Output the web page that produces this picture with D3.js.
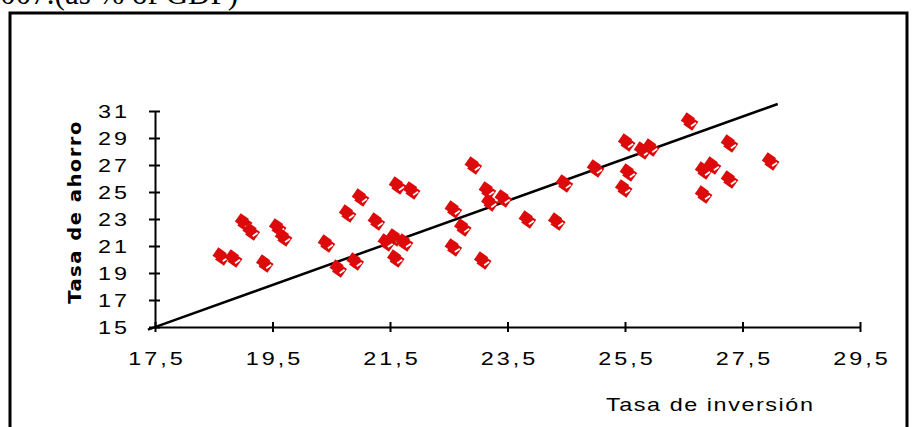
<!DOCTYPE html>
<html><head><meta charset="utf-8">
<script src="https://cdn.jsdelivr.net/npm/d3@7"></script>
<style>body{margin:0;background:#fff}svg{display:block}</style>
</head><body>
<svg id="c" width="912" height="427"></svg>
<script>
const invRate = [18.62,18.83,19.00,19.13,19.36,19.58,19.68,20.41,20.61,20.77,20.90,20.99,21.26,21.43,21.57,21.59,21.62,21.74,21.86,22.57,22.57,22.73,22.91,23.07,23.15,23.19,23.42,23.83,24.33,24.46,24.99,25.47,25.52,25.55,25.79,25.93,26.59,26.83,26.83,26.98,27.27,27.27,27.97];
const savRate = [20.26,20.11,22.78,22.11,19.74,22.41,21.67,21.22,19.37,23.44,19.89,24.63,22.85,21.30,21.67,20.11,25.52,21.30,25.15,23.74,20.93,22.41,27.00,19.96,25.15,24.26,24.56,23.00,22.85,25.67,26.78,25.30,28.70,26.48,28.11,28.33,30.26,24.85,26.63,27.00,28.63,25.96,27.30];
const trendX = [17.38, 28.10];
const trendY = [14.81, 31.52];
const xTicks = [17.5,19.5,21.5,23.5,25.5,27.5,29.5];
const yTicks = [15,17,19,21,23,25,27,29,31];
const titleText = "1960-2007.(as % of GDP)";
const xTitle = "Tasa de inversión";
const yTitle = "Tasa de ahorro";

const svg = d3.select("#c");
const red = "#dc0a0a";
const sans = "Liberation Sans, Arial, sans-serif";

// title (cut at top, as in the reference)
svg.append("text").attr("x",238).attr("y",4).attr("text-anchor","end")
  .attr("font-family","Liberation Serif, Times New Roman, serif").attr("font-size",31)
  .text(titleText);

// frame
svg.append("path").attr("d","M10,427 V13 H907 V427").attr("fill","none")
  .attr("stroke","#000").attr("stroke-width",3);

const x = d3.scaleLinear().domain([17.5,29.5]).range([155,860]);
const y = d3.scaleLinear().domain([15,31]).range([327,111]);

const fmt = v => (Number.isInteger(v) ? String(v) : d3.format(".1f")(v).replace(".", ","));

// x axis
const gx = svg.append("g").attr("transform","translate(0,327)")
  .call(d3.axisBottom(x).tickValues(xTicks).tickSize(0).tickPadding(0).tickFormat(fmt));
gx.select(".domain").attr("stroke","#000").attr("stroke-width",2);
gx.selectAll(".tick line").attr("y1",-5).attr("y2",5).attr("stroke","#000").attr("stroke-width",2);
gx.selectAll(".tick text").attr("y",0).attr("dy",0).attr("font-size",18)
  .attr("transform","translate(1.5,38) scale(1.3,1)")
  .attr("font-family",sans).attr("fill","#000").attr("letter-spacing","2.3px");

// y axis
const gy = svg.append("g").attr("transform","translate(155,0)")
  .call(d3.axisLeft(y).tickValues(yTicks).tickSize(0).tickPadding(0).tickFormat(fmt));
gy.select(".domain").attr("stroke","#000").attr("stroke-width",2);
gy.selectAll(".tick line").attr("x1",-6).attr("x2",5).attr("stroke","#000").attr("stroke-width",2);
gy.selectAll(".tick text").attr("x",0).attr("dy","0.36em").attr("font-size",18)
  .attr("transform","translate(-25,0) scale(1.3,1)")
  .attr("font-family",sans).attr("fill","#000").attr("letter-spacing","2.3px");

// axis titles
svg.append("text").attr("transform","translate(606,411) scale(1.3,1)")
  .attr("font-family",sans).attr("font-size",18)
  .attr("letter-spacing","1.2px").text(xTitle);
svg.append("text").attr("transform","translate(81,212) rotate(-90) scale(1.15,1)").attr("text-anchor","middle")
  .attr("font-family","DejaVu Sans, Arial, sans-serif").attr("font-weight","bold").attr("font-size",17)
  .attr("letter-spacing","1.3px").text(yTitle);

// trend line
svg.append("path").datum(trendX.map((v,i)=>[v,trendY[i]]))
  .attr("d", d3.line().x(d=>x(d[0])).y(d=>y(d[1])))
  .attr("stroke","#000").attr("stroke-width",2.5).attr("fill","none");

// markers
const data = invRate.map((v,i)=>({x:v,y:savRate[i]}));
const sq = s => `M${-s},${-s}L${s},${-s}L${s},${s}L${-s},${s}Z`;
const g = svg.append("g");
const m = g.selectAll("g.m").data(data).join("g").attr("class","m")
  .attr("transform", d=>`translate(${x(d.x)},${y(d.y)})`);
m.append("path").attr("d", sq(5.4)).attr("transform","translate(1.8,2.2) rotate(35)")
  .attr("fill",red);
m.append("path").attr("d","M-1.5,0 L4.5,0").attr("transform","translate(3.2,4.3) rotate(-35)")
  .attr("stroke","#fff").attr("stroke-width",1.8);
m.append("path").attr("d", sq(5.1)).attr("transform","translate(-1.2,-1.6) rotate(35)")
  .attr("fill",red);
</script>
</body></html>
